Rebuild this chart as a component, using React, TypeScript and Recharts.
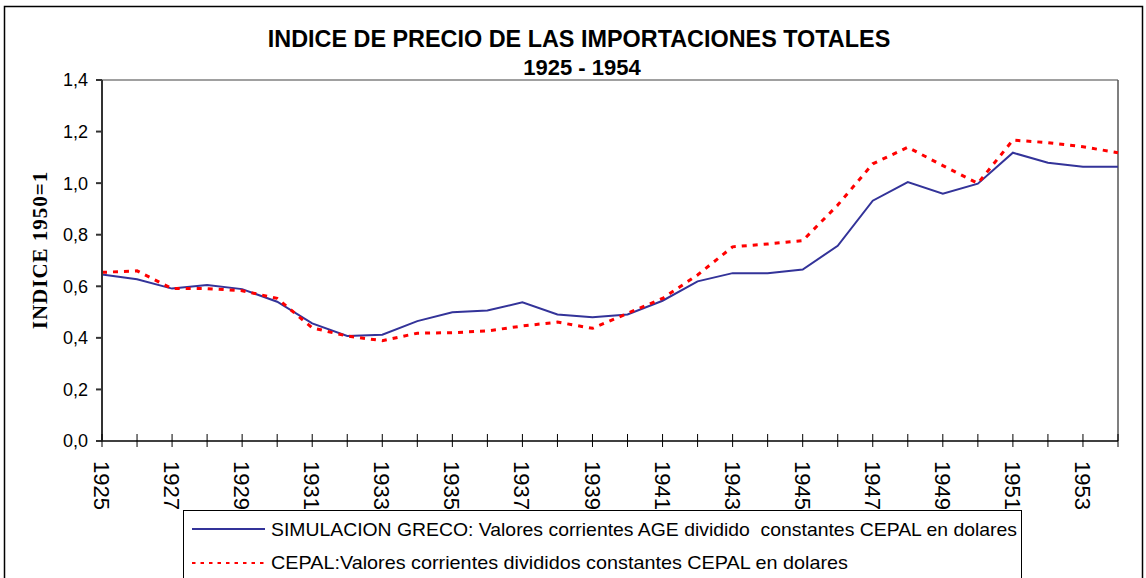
import { LineChart, Line, XAxis, YAxis, ReferenceLine } from 'recharts';

const years = [
  1925, 1926, 1927, 1928, 1929, 1930, 1931, 1932, 1933, 1934,
  1935, 1936, 1937, 1938, 1939, 1940, 1941, 1942, 1943, 1944,
  1945, 1946, 1947, 1948, 1949, 1950, 1951, 1952, 1953, 1954,
];

const greco = [
  0.646, 0.627, 0.591, 0.605, 0.589, 0.54, 0.456, 0.407, 0.412, 0.465,
  0.499, 0.506, 0.538, 0.491, 0.48, 0.491, 0.544, 0.619, 0.651, 0.651,
  0.665, 0.757, 0.932, 1.004, 0.959, 0.998, 1.118, 1.079, 1.064, 1.064,
];

const cepal = [
  0.654, 0.66, 0.591, 0.591, 0.583, 0.553, 0.439, 0.407, 0.389, 0.418,
  0.42, 0.427, 0.446, 0.461, 0.437, 0.495, 0.553, 0.644, 0.753, 0.764,
  0.777, 0.915, 1.075, 1.139, 1.068, 0.999, 1.167, 1.157, 1.141, 1.118,
];

const yTicks = [0, 0.2, 0.4, 0.6, 0.8, 1.0, 1.2, 1.4];

const title = 'INDICE DE PRECIO DE LAS IMPORTACIONES TOTALES';
const subtitle = '1925 - 1954';
const yLabel = 'INDICE 1950=1';
const grecoName = 'SIMULACION GRECO: Valores corrientes AGE dividido  constantes CEPAL en dolares';
const cepalName = 'CEPAL:Valores corrientes divididos constantes CEPAL en dolares';

const data = years.map((year, i) => ({ year, greco: greco[i], cepal: cepal[i] }));

const SANS = '"Liberation Sans", Arial, sans-serif';
const BLUE = '#333399';
const RED = '#ff0000';

// tick mark crossing the axis, label only on odd years
function YearTick(props: any) {
  const { x, y, payload } = props;
  const yr = payload.value as number;
  return (
    <g>
      <line x1={x} y1={y - 7} x2={x} y2={y + 6} stroke="#000" strokeWidth={1} />
      {yr % 2 === 1 && (
        <text
          transform={`translate(${x}, ${y + 20}) rotate(90)`}
          textAnchor="start"
          dy="0.36em"
          fontSize={22}
          fontFamily={SANS}
          fill="#000"
        >
          {yr}
        </text>
      )}
    </g>
  );
}

export default function App() {
  return (
    <div
      style={{
        position: 'fixed',
        left: 0,
        top: 0,
        width: 1146,
        height: 578,
        background: '#fff',
        overflow: 'hidden',
      }}
    >
      <LineChart
        width={1146}
        height={578}
        data={data}
        margin={{ top: 80, right: 28, left: 0, bottom: 0 }}
      >
        <XAxis
          dataKey="year"
          type="number"
          domain={[1925, 1954]}
          ticks={years}
          interval={0}
          height={137}
          tickSize={0}
          tickMargin={0}
          tickLine={false}
          tick={<YearTick />}
          stroke="#000"
          strokeWidth={1.5}
        />
        <YAxis
          domain={[0, 1.4]}
          ticks={yTicks}
          width={102}
          tickSize={6}
          tickMargin={8}
          tickFormatter={(v: number) => v.toFixed(1).replace('.', ',')}
          tick={{ fontSize: 18, fontFamily: SANS, fill: '#000' }}
          stroke="#333"
          strokeWidth={2}
        />
        <ReferenceLine y={1.4} stroke="#808080" strokeWidth={1.5} />
        <ReferenceLine x={1954} stroke="#555" strokeWidth={1.5} />
        <Line
          dataKey="greco"
          stroke={BLUE}
          strokeWidth={2}
          dot={false}
          isAnimationActive={false}
        />
        <Line
          dataKey="cepal"
          stroke={RED}
          strokeWidth={3}
          strokeDasharray="5 6"
          dot={false}
          isAnimationActive={false}
        />
      </LineChart>

      <svg
        width={1146}
        height={578}
        style={{ position: 'absolute', left: 0, top: 0, pointerEvents: 'none' }}
      >
        <rect x={4.5} y={6.5} width={1138} height={620} fill="none" stroke="#000" strokeWidth={1.5} />
        <text x={579} y={47} textAnchor="middle" fontSize={23.4} fontWeight="bold" fontFamily={SANS}>
          {title}
        </text>
        <text x={582} y={75} textAnchor="middle" fontSize={22} fontWeight="bold" fontFamily={SANS}>
          {subtitle}
        </text>
        <text
          transform="translate(47, 250) rotate(-90)"
          textAnchor="middle"
          fontSize={21}
          fontWeight="bold"
          fontFamily='"Liberation Serif", "Times New Roman", serif'
          letterSpacing={1}
        >
          {yLabel}
        </text>

        <rect x={183.5} y={510.5} width={838} height={100} fill="#fff" stroke="#000" strokeWidth={1} />
        <line x1={192} y1={529} x2={265} y2={529} stroke={BLUE} strokeWidth={2} />
        <text
          x={271}
          y={536}
          fontSize={19}
          fontFamily={SANS}
          textLength={746}
          lengthAdjust="spacingAndGlyphs"
          style={{ whiteSpace: 'pre' }}
        >
          {grecoName}
        </text>
        <line x1={192} y1={563} x2={265} y2={563} stroke={RED} strokeWidth={2} strokeDasharray="3.5 5" />
        <text
          x={271}
          y={569}
          fontSize={19}
          fontFamily={SANS}
          textLength={577}
          lengthAdjust="spacingAndGlyphs"
        >
          {cepalName}
        </text>
      </svg>
    </div>
  );
}
